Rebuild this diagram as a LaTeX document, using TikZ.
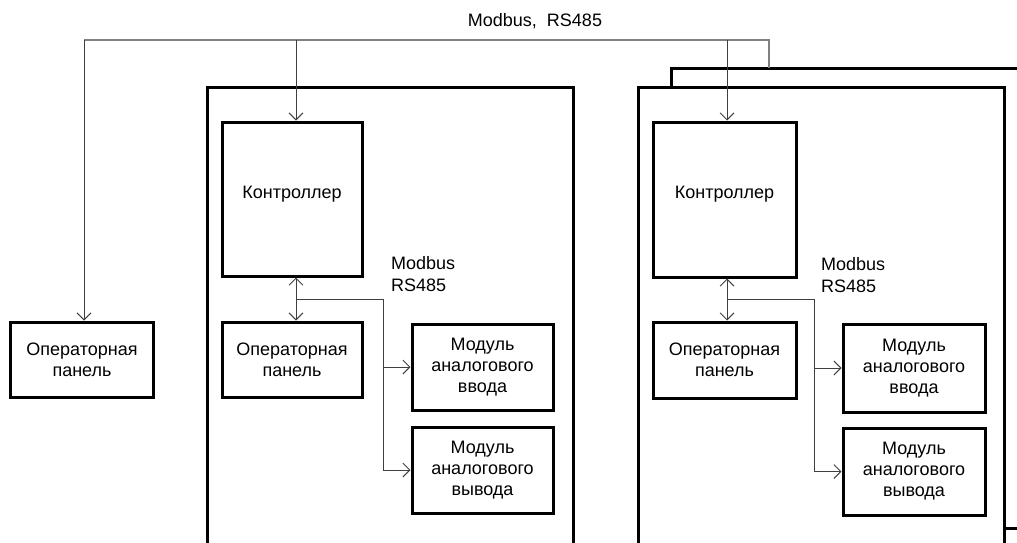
\documentclass[tikz,border=0pt]{standalone}
\usepackage{fontspec}
\setmainfont{Liberation Sans}
\usetikzlibrary{arrows.meta}
\begin{document}
\begin{tikzpicture}[x=1pt,y=-1pt,
  blk/.style={draw=black,line width=3pt,fill=white,align=center,inner sep=0pt,
    font=\fontsize{18}{21}\selectfont},
  ctrl/.style={blk,text depth=14pt},
  conn/.style={draw=black!75,line width=1pt},
  bus/.style={draw=black!50,line width=1.3pt},
  arr/.style={-{Straight Barb[length=7pt,width=14pt,line width=0.9pt]}},
  darr/.style={{Straight Barb[length=7pt,width=14pt,line width=0.9pt]}-{Straight Barb[length=7pt,width=14pt,line width=0.9pt]}},
  lbl/.style={font=\fontsize{18}{22.5}\selectfont,align=left,inner sep=0pt,anchor=north west},
  frame/.style={draw=black,line width=3pt,fill=white}]
\useasboundingbox (0,0) rectangle (1017,542);
\begin{scope}
\clip (0,0) rectangle (1017,542);
% back frame (right group)
\draw[frame] (671,68) rectangle (1060,528);
% front frames
\draw[frame] (207,87) rectangle (573,580);
\draw[frame] (638,87) rectangle (1004,580);
\end{scope}

% top label
\node[font=\fontsize{18}{20}\selectfont,inner sep=0pt] (toplbl) at (535,21) {Modbus,\ \ RS485};

% standalone operator panel
\node[blk,minimum width=143pt,minimum height=75pt] (op0) at (82,359.5) {Операторная\\панель};

% left group
\node[ctrl,minimum width=140pt,minimum height=154pt] (c1) at (292,199) {Контроллер};
\node[blk,minimum width=140pt,minimum height=75pt] (p1) at (292,359.5) {Операторная\\панель};
\node[blk,minimum width=141pt,minimum height=86pt] (ai1) at (482.5,367) {Модуль\\аналогового\\ввода};
\node[blk,minimum width=141pt,minimum height=86pt] (ao1) at (482.5,470) {Модуль\\аналогового\\вывода};
\node[lbl] (l1) at (391,256) {Modbus\\RS485};

% right group
\node[ctrl,minimum width=143pt,minimum height=155pt] (c2) at (724.5,199.5) {Контроллер};
\node[blk,minimum width=143pt,minimum height=76pt] (p2) at (724.5,360) {Операторная\\панель};
\node[blk,minimum width=142pt,minimum height=88pt] (ai2) at (914,368) {Модуль\\аналогового\\ввода};
\node[blk,minimum width=142pt,minimum height=87pt] (ao2) at (914,471.5) {Модуль\\аналогового\\вывода};
\node[lbl] (l2) at (821,257) {Modbus\\RS485};

% bus coordinates
\coordinate (bL) at (84,40);
\coordinate (bR) at (769,40);
\coordinate (bRd) at (769,68);
\coordinate (b1) at (296,40);
\coordinate (b2) at (727,40);
\draw[bus] (bRd) -- (bR) -- (bL);
\draw[conn,arr] (bL) -- (bL |- op0.north);
\draw[conn,arr] (b1) -- (b1 |- c1.north);
\draw[conn,arr] (b2) -- (b2 |- c2.north);

% left internal bus
\coordinate (j1) at (296,299);
\coordinate (v1) at (383,299);
\draw[conn,darr] (j1 |- c1.south) -- (j1 |- p1.north);
\draw[conn] (j1) -- (v1) -- (v1 |- ao1.west);
\draw[conn,arr] (v1 |- ai1.west) -- (ai1.west);
\draw[conn,arr] (v1 |- ao1.west) -- (ao1.west);

% right internal bus
\coordinate (j2) at (727,299);
\coordinate (v2) at (814,299);
\draw[conn,darr] (j2 |- c2.south) -- (j2 |- p2.north);
\draw[conn] (j2) -- (v2) -- (v2 |- ao2.west);
\draw[conn,arr] (v2 |- ai2.west) -- (ai2.west);
\draw[conn,arr] (v2 |- ao2.west) -- (ao2.west);
\end{tikzpicture}
\end{document}
